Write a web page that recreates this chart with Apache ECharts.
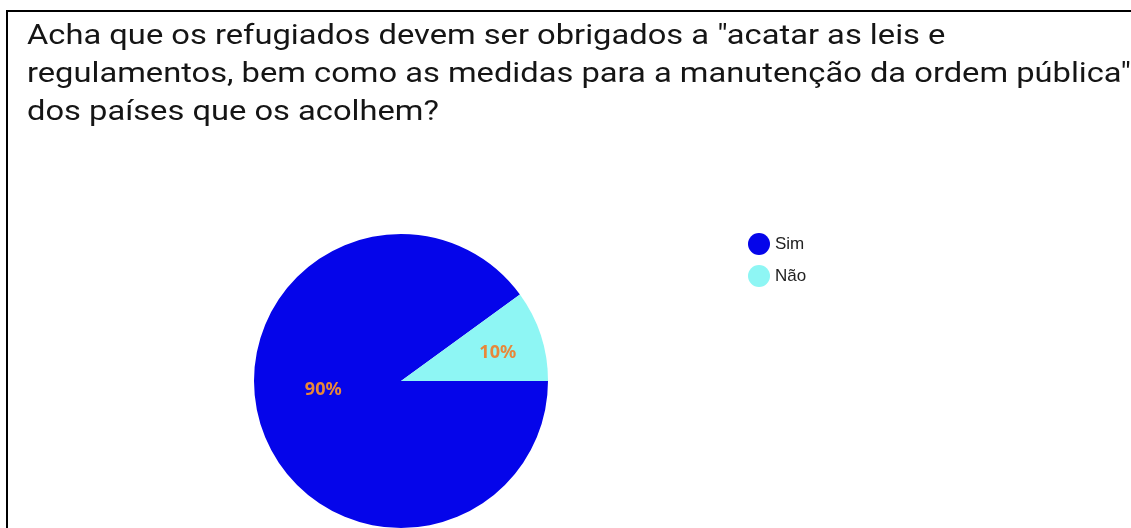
<!DOCTYPE html>
<html><head><meta charset="utf-8">
<script src="https://cdn.jsdelivr.net/npm/echarts@6/dist/echarts.min.js"></script>
<style>html,body{margin:0;padding:0;background:#fff;}#c{width:1131px;height:528px;}</style>
</head><body><div id="c"></div>
<script>
const titleLines = ['Acha que os refugiados devem ser obrigados a "acatar as leis e', 'regulamentos, bem como as medidas para a manutenção da ordem pública"', 'dos países que os acolhem?'];
const categories = ['Sim', 'Não'];
const values = [90, 10];
const colors = ['#0505ea', '#8ef6f4'];
const labelOffsets = [[-5, -15], [24, -4]];

const chart = echarts.init(document.getElementById('c'));
chart.setOption({
  backgroundColor: '#fff',
  animation: false,
  legend: {
    orient: 'vertical', left: 743, top: 228,
    icon: 'circle', itemWidth: 22, itemHeight: 22, itemGap: 10,
    textStyle: { fontFamily: 'Arial', fontSize: 17, color: '#222' },
    data: categories
  },
  graphic: [
    { type: 'rect', shape: { x: 6, y: 10, width: 2, height: 518 }, style: { fill: '#000' } },
    { type: 'rect', shape: { x: 6, y: 10, width: 1125, height: 2 }, style: { fill: '#000' } },
    { type: 'text', x: 27, y: 18, scaleX: 1.167, scaleY: 1,
      style: { text: titleLines.join('\n'), font: '28px Roboto', fill: '#151515', lineHeight: 38, verticalAlign: 'top' } }
  ],
  series: [{
    type: 'pie',
    center: [401, 381],
    radius: 147,
    startAngle: 0,
    clockwise: true,
    label: { show: true, position: 'inside', formatter: '{d}%', fontFamily: 'Noto Sans', fontWeight: 'bold', fontSize: 18, color: '#e8873a' },
    labelLine: { show: false },
    itemStyle: { borderWidth: 0 },
    emphasis: { disabled: true },
    data: categories.map((n, i) => ({ name: n, value: values[i], itemStyle: { color: colors[i] }, label: { offset: labelOffsets[i] } }))
  }]
});
</script></body></html>
